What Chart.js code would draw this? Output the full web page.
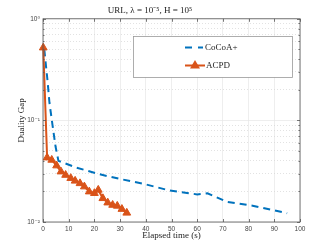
<!DOCTYPE html>
<html>
<head>
<meta charset="utf-8">
<script src="https://cdn.jsdelivr.net/npm/chart.js@4.4.1/dist/chart.umd.min.js"></script>
<style>
html, body { margin: 0; padding: 0; background: #fff; }
#wrap { width: 332px; height: 249px; }
</style>
</head>
<body>
<div id="wrap"><canvas id="myChart"></canvas></div>
<script>
// data
const cocoaTime = [0.5, 1.8, 2.5, 3.7, 4.9, 6, 13, 22, 30, 39, 49, 60, 64, 71.5, 82, 95];
const cocoaGap = [0.5, 0.24, 0.15, 0.09, 0.055, 0.04, 0.0343, 0.0295, 0.0265, 0.0238, 0.0205, 0.0187, 0.0192, 0.0158, 0.0144, 0.0122];
const acpdTime = [0.1, 1.6, 3.4, 5.3, 7.0, 8.8, 10.8, 12.5, 14.4, 16.1, 18.0, 20.0, 21.5, 23.3, 25.2, 27.1, 28.9, 30.7, 32.6];
const acpdGap = [0.52, 0.043, 0.0408, 0.0359, 0.0313, 0.029, 0.027, 0.0254, 0.024, 0.0223, 0.0199, 0.0192, 0.0207, 0.0171, 0.0155, 0.0147, 0.0144, 0.0134, 0.0123];
const seriesNames = ["CoCoA+", "ACPD"];
const yGridValues = [0.01, 0.02, 0.03, 0.04, 0.05, 0.06, 0.07, 0.08, 0.09,
                     0.1, 0.2, 0.3, 0.4, 0.5, 0.6, 0.7, 0.8, 0.9, 1];
const yTickLabels = { "1": "10⁰", "0.1": "10⁻¹", "0.01": "10⁻²" };

const blue = "#0072BD";
const orange = "#D95319";
const isDecade = v => yTickLabels[String(v)] !== undefined;

// box round the axes with inward ticks, matlab style
const framePlugin = {
    id: "frame",
    afterDatasetsDraw(c) {
        const ctx = c.ctx, a = c.chartArea;
        const xs = c.scales.x, ys = c.scales.y;
        ctx.save();
        ctx.strokeStyle = "#555";
        ctx.lineWidth = 0.8;
        ctx.strokeRect(a.left, a.top, a.right - a.left, a.bottom - a.top);
        ctx.beginPath();
        xs.ticks.forEach(t => {
            const px = Math.round(xs.getPixelForValue(t.value)) + 0.5;
            ctx.moveTo(px, a.bottom); ctx.lineTo(px, a.bottom - 3);
            ctx.moveTo(px, a.top); ctx.lineTo(px, a.top + 3);
        });
        yGridValues.forEach(v => {
            const py = Math.round(ys.getPixelForValue(v)) + 0.5;
            const len = isDecade(v) ? 3 : 1.5;
            ctx.moveTo(a.left, py); ctx.lineTo(a.left + len, py);
            ctx.moveTo(a.right, py); ctx.lineTo(a.right - len, py);
        });
        ctx.stroke();
        ctx.restore();
    }
};

const legendPlugin = {
    id: "boxLegend",
    afterDraw(c) {
        const ctx = c.ctx;
        ctx.save();
        ctx.fillStyle = "#fff";
        ctx.fillRect(133, 36, 159, 41);
        ctx.strokeStyle = "#999";
        ctx.lineWidth = 0.8;
        ctx.strokeRect(133.5, 36.5, 159, 41);
        // CoCoA+
        ctx.strokeStyle = blue;
        ctx.lineWidth = 2;
        ctx.beginPath();
        ctx.moveTo(185, 47.5); ctx.lineTo(192, 47.5);
        ctx.moveTo(198, 47.5); ctx.lineTo(203, 47.5);
        ctx.stroke();
        // ACPD
        ctx.strokeStyle = orange;
        ctx.beginPath(); ctx.moveTo(185, 65.5); ctx.lineTo(205, 65.5); ctx.stroke();
        ctx.fillStyle = orange;
        ctx.beginPath(); ctx.moveTo(195, 60); ctx.lineTo(200, 68.5); ctx.lineTo(190, 68.5); ctx.closePath(); ctx.fill();
        ctx.fillStyle = "#222";
        ctx.font = "9px 'Liberation Serif', serif";
        ctx.textBaseline = "middle";
        ctx.fillText(seriesNames[0], 205, 47.5);
        ctx.fillText(seriesNames[1], 206, 65.5);
        ctx.restore();
    }
};

const chart = document.querySelector("#myChart").getContext("2d");

new Chart(chart, {
    type: "line",
    data: {
        datasets: [
            {
                label: seriesNames[0],
                data: cocoaTime.map((t, i) => ({ x: t, y: cocoaGap[i] })),
                borderColor: blue,
                borderWidth: 2,
                borderDash: [7, 5],
                pointRadius: 0,
                tension: 0,
                fill: false,
                order: 1
            },
            {
                label: seriesNames[1],
                data: acpdTime.map((t, i) => ({ x: t, y: acpdGap[i] })),
                borderColor: orange,
                backgroundColor: orange,
                borderWidth: 2,
                pointStyle: "triangle",
                pointRadius: 4.5,
                pointBorderWidth: 1,
                tension: 0,
                fill: false,
                clip: false,
                order: 0
            }
        ]
    },
    options: {
        responsive: true,
        maintainAspectRatio: false,
        animation: false,
        layout: { padding: { left: 0, right: 32, top: 0, bottom: 0 } },
        plugins: {
            legend: { display: false },
            tooltip: { enabled: false },
            title: {
                display: true,
                text: "URL, λ = 10⁻⁵, H = 10⁵",
                color: "#222",
                font: { family: "'Liberation Serif', serif", size: 9, weight: "normal" },
                padding: { top: 5, bottom: 3 }
            }
        },
        scales: {
            x: {
                type: "linear",
                min: 0,
                max: 100,
                ticks: {
                    stepSize: 10,
                    padding: 3,
                    color: "#444",
                    font: { family: "'Liberation Sans', 'DejaVu Sans', sans-serif", size: 6.5 },
                    maxRotation: 0
                },
                grid: { color: "#e6e6e6", lineWidth: 0.7, drawTicks: false },
                border: { display: false },
                title: {
                    display: true,
                    text: "Elapsed time (s)",
                    color: "#222",
                    font: { family: "'Liberation Serif', serif", size: 9 },
                    padding: { top: 0, bottom: 7.5 }
                },
                afterFit(s) { s.height = 27; }
            },
            y: {
                type: "logarithmic",
                min: 0.01,
                max: 1,
                afterBuildTicks(s) { s.ticks = yGridValues.map(v => ({ value: v, major: isDecade(v) })); },
                ticks: {
                    autoSkip: false,
                    padding: 3,
                    color: "#444",
                    font: { family: "'Liberation Sans', 'DejaVu Sans', sans-serif", size: 6.5 },
                    callback: v => yTickLabels[String(v)] || ""
                },
                grid: {
                    color: c => (c.tick && isDecade(c.tick.value)) ? "#e6e6e6" : "#d6d6d6",
                    lineWidth: 0.7,
                    drawTicks: false
                },
                border: {
                    display: false,
                    dash: c => (c.tick && isDecade(c.tick.value)) ? [] : [1, 2]
                },
                title: {
                    display: true,
                    text: "Duality Gap",
                    color: "#222",
                    font: { family: "'Liberation Serif', serif", size: 9 },
                    padding: { top: 16, bottom: 0 }
                },
                afterFit(s) { s.width = 43; }
            }
        }
    },
    plugins: [framePlugin, legendPlugin]
});
</script>
</body>
</html>
